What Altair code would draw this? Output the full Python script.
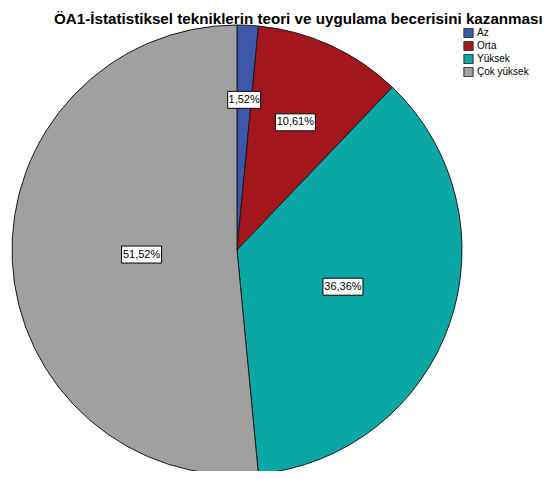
import altair as alt
import pandas as pd

categories = ["Az", "Orta", "Yüksek", "Çok yüksek"]
percentages = [1.52, 10.61, 36.36, 51.52]
labels = ["1,52%", "10,61%", "36,36%", "51,52%"]
colors = ["#3D57AB", "#A3161B", "#0AA7A5", "#A0A0A0"]
title_text = "ÖA1-İstatistiksel tekniklerin teori ve uygulama becerisini kazanması"

W, H = 458, 430

df = pd.DataFrame({"kategori": categories, "yuzde": percentages, "etiket": labels,
                   "sira": list(range(len(categories)))})

color_scale = alt.Scale(domain=categories, range=colors)

base = alt.Chart(df)

arcs = base.mark_arc(radius=225, stroke="#1a1a1a", strokeWidth=1).encode(
    theta=alt.Theta("yuzde:Q", stack=True),
    order=alt.Order("sira:Q"),
    color=alt.Color("kategori:N", scale=color_scale, sort=categories,
                    legend=alt.Legend(title=None, orient="none", legendX=455, legendY=-7,
                                      symbolType="square", symbolSize=85,
                                      symbolStrokeColor="#333", symbolStrokeWidth=1,
                                      symbolOpacity=1, labelFont="Liberation Sans",
                                      labelFontSize=10, labelColor="#000",
                                      clipHeight=10, rowPadding=3, labelOffset=3)),
)

# label anchor positions derived from the data (slice mid-angle)
lab = base.transform_joinaggregate(
    toplam="sum(yuzde)"
).transform_window(
    kum="sum(yuzde)", sort=[alt.SortField("sira")], frame=[None, 0]
).transform_calculate(
    aci="(datum.kum - datum.yuzde / 2) / datum.toplam * 2 * PI",
    r="152 - 57 * datum.yuzde / 52",
).transform_calculate(
    px="datum.r * sin(datum.aci)",
    py="datum.r * cos(datum.aci)",
    w="length(datum.etiket) * 7 - 2",
).transform_calculate(
    x1="datum.px - datum.w / 2",
    x2="datum.px + datum.w / 2",
    y1="datum.py - 8.5",
    y2="datum.py + 8.5",
)

xs = alt.Scale(domain=[-W / 2, W / 2], nice=False, zero=False)
ys = alt.Scale(domain=[-H / 2, H / 2], nice=False, zero=False)

boxes = lab.mark_rect(fill="white", stroke="#000", strokeWidth=1).encode(
    x=alt.X("x1:Q", scale=xs, axis=None),
    x2="x2:Q",
    y=alt.Y("y1:Q", scale=ys, axis=None),
    y2="y2:Q",
)

label_text = lab.mark_text(font="Liberation Sans", fontSize=11, color="#000").encode(
    x=alt.X("px:Q", scale=xs, axis=None),
    y=alt.Y("py:Q", scale=ys, axis=None),
    text="etiket:N",
)

chart = alt.layer(arcs, boxes, label_text).properties(
    width=W, height=H,
    padding={"top": 27, "left": 0, "right": 86, "bottom": 6},
    autosize=alt.AutoSizeParams(type="none"),
    title=alt.TitleParams(title_text, font="Liberation Sans", fontSize=15.2, fontWeight="bold",
                          anchor="start", dx=46, offset=-4, color="#000"),
).configure_view(stroke=None)

chart.save("out.html", embed_options={"renderer": "svg", "actions": False})
